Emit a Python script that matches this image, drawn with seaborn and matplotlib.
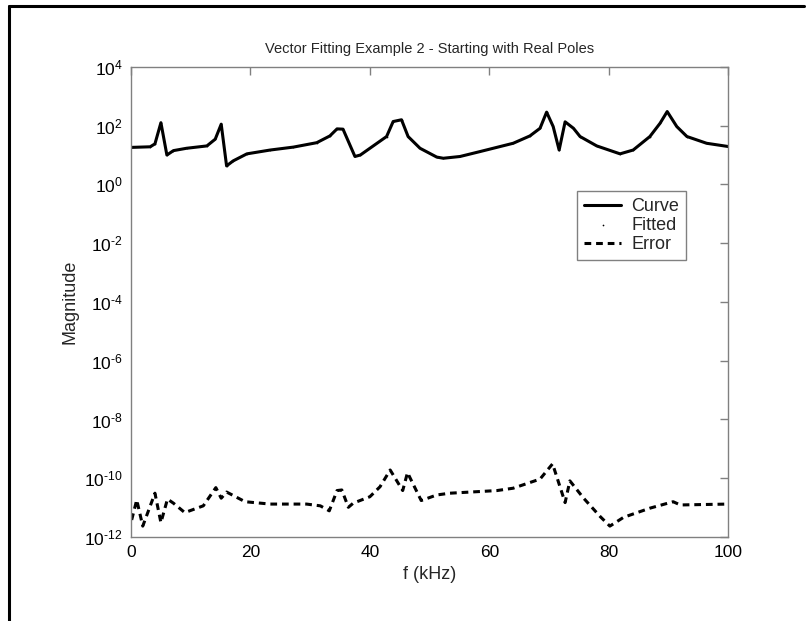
import numpy as np
import pandas as pd
import matplotlib
matplotlib.use("Agg")
import matplotlib.pyplot as plt
import matplotlib.ticker as mticker
from matplotlib.lines import Line2D
import seaborn as sns

# frequency samples (kHz) and log10 magnitude
curve_f = [0.1, 3.2, 4.0, 5.0, 6.0, 7.1, 9.3, 12.7, 14.1, 15.1, 16.0, 17.1, 19.4,
           23.3, 27.2, 31.1, 33.3, 34.5, 35.5, 37.5, 38.4, 42.8, 43.9, 45.3, 46.4,
           48.4, 51.2, 52.3, 55.1, 58.5, 64.0, 66.8, 68.5, 69.6, 70.7, 71.7, 72.7,
           74.1, 75.2, 78.0, 81.9, 84.1, 86.9, 88.6, 89.8, 91.4, 93.1, 96.4, 100.0]
curve_log = [1.26, 1.28, 1.38, 2.10, 1.00, 1.15, 1.23, 1.31, 1.54, 2.05, 0.63, 0.80, 1.04,
             1.17, 1.27, 1.42, 1.65, 1.89, 1.88, 0.95, 1.00, 1.63, 2.14, 2.20, 1.63,
             1.23, 0.93, 0.89, 0.95, 1.12, 1.40, 1.65, 1.91, 2.46, 1.97, 1.17, 2.13,
             1.91, 1.63, 1.31, 1.04, 1.17, 1.63, 2.08, 2.48, 1.97, 1.63, 1.40, 1.29]

error_f = [0.1, 0.95, 1.96, 4.0, 5.0, 6.1, 7.1, 9.0, 12.1, 14.2, 15.1, 16.0, 19.1,
           23.3, 29.4, 31.7, 33.2, 34.5, 35.3, 36.4, 37.2, 40.0, 41.7, 43.4, 45.5,
           46.3, 48.6, 51.2, 53.4, 61.3, 64.0, 68.5, 70.6, 72.7, 73.5, 75.8, 78.6,
           80.2, 82.5, 86.9, 90.8, 92.0, 100.0]
error_log = [-11.42, -10.74, -11.63, -10.51, -11.51, -10.71, -10.85, -11.17, -10.94,
             -10.32, -10.68, -10.47, -10.80, -10.88, -10.88, -10.94, -11.11, -10.42,
             -10.40, -10.99, -10.85, -10.63, -10.29, -9.72, -10.42, -9.81, -10.76,
             -10.57, -10.51, -10.42, -10.34, -10.03, -9.51, -10.83, -10.09, -10.68,
             -11.31, -11.63, -11.33, -11.02, -10.80, -10.91, -10.88]

curve = pd.DataFrame({"f": curve_f, "mag": 10.0 ** np.array(curve_log)})
error = pd.DataFrame({"f": error_f, "mag": 10.0 ** np.array(error_log)})

sns.set_style("white")
plt.rcParams["font.family"] = ["Liberation Sans", "DejaVu Sans"]
plt.rcParams["mathtext.fontset"] = "custom"
plt.rcParams["mathtext.rm"] = "Liberation Sans"
plt.rcParams["axes.unicode_minus"] = False
plt.rcParams["font.size"] = 12.5

fig = plt.figure(figsize=(8.09, 6.21), dpi=100, facecolor="white")
ax = fig.add_axes([0.162, 0.1353, 0.738, 0.757])

sns.lineplot(data=curve, x="f", y="mag", ax=ax, color="black", lw=2.2,
             sort=False, estimator=None, label="Curve")
sns.scatterplot(data=curve, x="f", y="mag", ax=ax, color="black", marker=".",
                s=6, linewidth=0, label="Fitted", zorder=1)
sns.lineplot(data=error, x="f", y="mag", ax=ax, color="black", lw=2.2,
             sort=False, estimator=None, label="Error", dashes=False)
ax.lines[-1].set_linestyle((0, (2.2, 1.6)))


def log_label(v, pos):
    k = int(round(np.log10(v)))
    exp = str(k).replace("-", "\u2010")
    return r"$\mathdefault{10^{%s}}$" % exp


ax.set_yscale("log")
ax.set_xlim(0, 100)
ax.set_ylim(1e-12, 1e4)
ax.set_xticks([0, 20, 40, 60, 80, 100])
ax.yaxis.set_major_locator(mticker.FixedLocator([10.0 ** k for k in range(-12, 5, 2)]))
ax.yaxis.set_major_formatter(mticker.FuncFormatter(log_label))
ax.yaxis.set_minor_locator(mticker.NullLocator())
ax.tick_params(direction="in", length=6, width=1, color="#808080",
               top=True, right=True, labelsize=12.5, labelcolor="black", pad=6)

for s in ax.spines.values():
    s.set_color("#808080")
    s.set_linewidth(1)
    s.set_visible(True)

ax.set_title("Vector Fitting Example 2 - Starting with Real Poles", fontsize=10.5, pad=10)
ax.set_xlabel("f (kHz)", fontsize=13, labelpad=4)
ax.set_ylabel("Magnitude", fontsize=13, labelpad=4)

leg = ax.legend(loc="upper left", bbox_to_anchor=(0.747, 0.736), fontsize=13,
                frameon=True, fancybox=False, framealpha=1, edgecolor="#808080",
                handlelength=2.05, handletextpad=0.55, borderpad=0.4, labelspacing=0.1,
                markerscale=1.0, borderaxespad=0)
leg.get_frame().set_linewidth(1)

# outer border of the figure
fig.add_artist(Line2D([0.011, 0.011], [0.0, 0.991], color="black", lw=2.2,
                      transform=fig.transFigure))
fig.add_artist(Line2D([0.011, 0.994], [0.991, 0.991], color="black", lw=2.2,
                      transform=fig.transFigure))

fig.savefig("out.png", dpi=100, facecolor="white")
